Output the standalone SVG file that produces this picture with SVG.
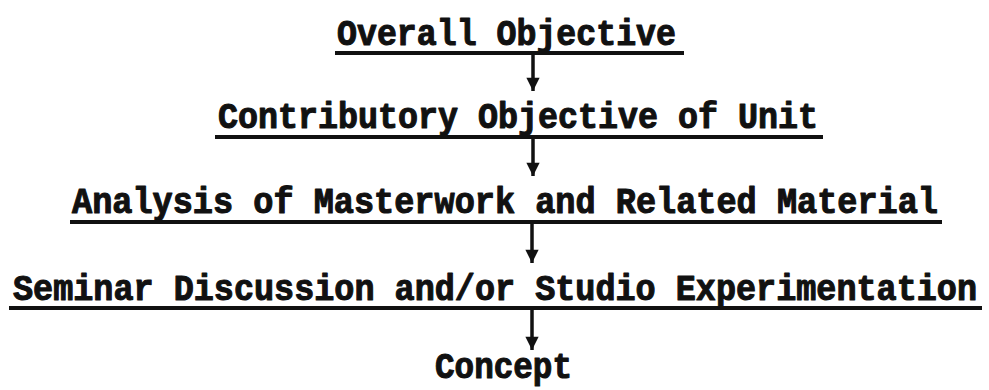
<svg xmlns="http://www.w3.org/2000/svg" width="989" height="390" viewBox="0 0 989 390">
  <defs>
    <style>
      .label { font-family: "Liberation Mono", "DejaVu Sans Mono", monospace; font-weight: bold; font-size: 36px; fill: #111; stroke: #111; stroke-width: 1.1; stroke-linejoin: round; }
      .rule { stroke: #111; stroke-width: 4; stroke-linecap: butt; fill: none; }
      .flow { stroke: #111; stroke-width: 3.5; fill: none; }
    </style>
    <marker id="arrowhead" viewBox="0 0 10 10" refX="10" refY="5" markerWidth="4.5" markerHeight="3.8" markerUnits="strokeWidth" orient="auto">
      <path d="M0,0 L10,5 L0,10 Z" fill="#111"/>
    </marker>
  </defs>
  <rect width="989" height="390" fill="#fff"/>

  <g id="overall-objective">
    <text class="label" x="337" y="45" textLength="339" lengthAdjust="spacingAndGlyphs">Overall Objective</text>
    <line class="rule" x1="335" y1="53" x2="684" y2="53"/>
  </g>

  <g id="contributory-objective">
    <text class="label" x="218" y="128" textLength="600" lengthAdjust="spacingAndGlyphs">Contributory Objective of Unit</text>
    <line class="rule" x1="215" y1="137" x2="823" y2="137"/>
  </g>

  <g id="analysis">
    <text class="label" x="72" y="213" textLength="866" lengthAdjust="spacingAndGlyphs">Analysis of Masterwork and Related Material</text>
    <line class="rule" x1="70" y1="222" x2="942" y2="222"/>
  </g>

  <g id="seminar">
    <text class="label" x="13" y="300" textLength="964" lengthAdjust="spacingAndGlyphs">Seminar Discussion and/or Studio Experimentation</text>
    <line class="rule" x1="9" y1="308" x2="982" y2="308"/>
  </g>

  <g id="concept">
    <text class="label" x="435" y="378" textLength="137" lengthAdjust="spacingAndGlyphs">Concept</text>
  </g>

  <!-- each arrow starts on the underline of the step above -->
  <g id="connectors">
    <line class="flow" x1="533" y1="55" x2="533" y2="91" marker-end="url(#arrowhead)"/>
    <line class="flow" x1="533" y1="139" x2="533" y2="176" marker-end="url(#arrowhead)"/>
    <line class="flow" x1="532" y1="224" x2="532" y2="263" marker-end="url(#arrowhead)"/>
    <line class="flow" x1="532" y1="310" x2="532" y2="350" marker-end="url(#arrowhead)"/>
  </g>
</svg>
